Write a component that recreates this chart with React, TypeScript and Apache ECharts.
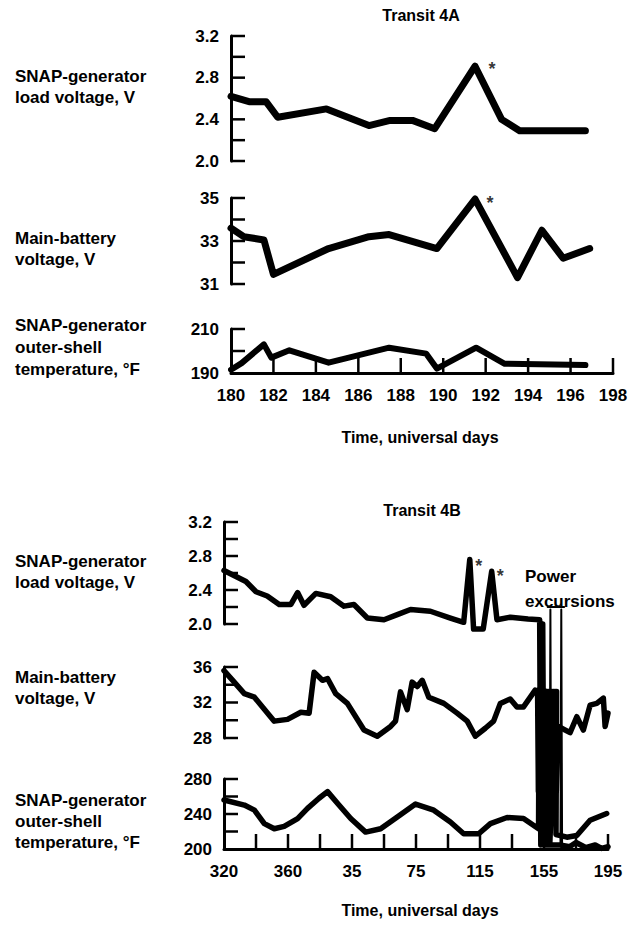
import React, { useEffect, useRef } from "react";
import * as echarts from "echarts";

// ---------- Transit 4A (x: universal day) ----------
const A_LOAD_DAYS = [180, 180.85, 181.65, 182.2, 184.5, 186.5, 187.5, 188.55, 189.6, 191.5, 192.75, 193.6, 196.7];
const A_LOAD_V = [2.62, 2.57, 2.57, 2.42, 2.5, 2.34, 2.39, 2.39, 2.31, 2.91, 2.4, 2.29, 2.29];

const A_BATT_DAYS = [180, 180.6, 181.55, 182.0, 184.6, 186.5, 187.45, 189.7, 191.5, 193.5, 194.65, 195.65, 196.9];
const A_BATT_V = [33.6, 33.2, 33.05, 31.45, 32.65, 33.2, 33.3, 32.65, 34.95, 31.3, 33.5, 32.2, 32.65];

const A_TEMP_DAYS = [180, 180.5, 181.55, 181.9, 182.75, 184.6, 187.45, 189.2, 189.7, 191.55, 192.9, 196.7];
const A_TEMP_F = [191.5, 194.5, 203, 197, 200.3, 194.7, 201.5, 198.8, 192, 201.5, 194.2, 193.6];

const A_STAR_LOAD = [[192.3, 2.93]];
const A_STAR_BATT = [[192.2, 34.99]];

// ---------- Transit 4B (x: running day, 365 wraps to next year) ----------
const B_LOAD_DAYS = [320, 333.7, 340, 347, 354.5, 361.8, 366, 370, 377.4, 386.7, 395, 401.2, 409.6, 420, 428.3, 436.6, 449, 461.5, 469.8, 473.6, 476, 482, 487.3, 490.6, 499, 510, 517.3, 518, 519.2, 520, 524, 530, 536, 540, 546, 552, 556, 560];
const B_LOAD_V = [2.63, 2.5, 2.38, 2.33, 2.23, 2.23, 2.37, 2.22, 2.36, 2.32, 2.21, 2.23, 2.07, 2.05, 2.11, 2.17, 2.15, 2.07, 2.02, 2.76, 1.94, 1.94, 2.62, 2.05, 2.08, 2.06, 2.05, -0.6, 2.0, -0.6, -0.6, -0.6, -0.62, -0.57, -0.63, -0.6, -0.64, -0.62];

const B_EXC_DAYS = [523.5, 524, 524.5, 530.3, 530.8, 531.3];
const B_EXC_V = [-0.6, 2.17, -0.6, -0.6, 2.17, -0.6];
const B_CAP_DAYS = [522.3, 532.6];
const B_CAP_V = [2.2, 2.2];

const B_BATT_DAYS = [320, 326.4, 332.7, 339, 351.4, 359.7, 368, 373.2, 376.3, 381.5, 384.7, 389.8, 397.1, 407.5, 415.8, 424.1, 427.2, 430.3, 434.5, 437.6, 440.8, 443.9, 448, 457.4, 465.7, 472, 477.1, 483.3, 488.5, 492.7, 498.9, 503.1, 507.2, 514.5,
  516, 516.5, 517.3, 518.1, 518.9, 519.7, 520.5, 521.3, 522.1, 522.9, 523.7, 524.5, 525.3, 526.1, 526.9, 527.7,
  529, 536.3, 540.5, 544.6, 548.8, 553, 557.1, 558.2, 560];
const B_BATT_V = [35.6, 34.3, 33.0, 32.6, 29.9, 30.1, 30.9, 30.8, 35.4, 34.5, 34.7, 33.0, 31.9, 28.9, 28.2, 29.3, 29.9, 33.2, 31.2, 34.3, 33.8, 34.5, 32.6, 31.9, 30.8, 29.9, 28.2, 29.1, 29.9, 31.9, 32.4, 31.5, 31.5, 33.4,
  33.0, 22, 33.5, 22, 33.5, 22, 33.3, 22, 33.2, 22, 33.0, 22, 32.5, 22, 31.5, 22,
  29.3, 28.6, 30.4, 28.9, 31.7, 31.9, 32.5, 29.3, 30.8];

const B_TEMP_DAYS = [320, 332.7, 339, 345.2, 351.4, 357.6, 366, 372.2, 379.4, 384.7, 390.9, 399.2, 408.5, 417.9, 428.3, 439.7, 451.1, 461.5, 469.8, 479.2, 486.5, 496.9, 507.2, 516.6,
  516.9, 521.6, 517.9, 521.8, 518.9, 522, 519.9, 522.2, 520.9, 522.4, 521.9, 522.6, 522.9, 522.8, 523.9, 523, 524.9, 523.2, 525.9, 523.4, 526.9, 523.6, 527.9,
  527.5, 534.3, 540.5, 548.8, 559.2];
const B_TEMP_F = [256, 250.2, 244.4, 229, 223.2, 225.9, 234.8, 246.4, 258, 265.6, 252.2, 234.8, 219.3, 223.2, 236.7, 251.4, 244.4, 230.9, 217.4, 217.4, 229, 236, 234.8, 223.2,
  380, 207, 380, 207, 380, 207, 380, 207, 380, 207, 380, 207, 380, 207, 380, 207, 380, 207, 380, 207, 380, 207, 380,
  216.6, 213.5, 215.4, 232.8, 240.6];

const B_STARS = [[479.2, 2.74], [492.7, 2.62]];

// axis ranges and tick positions
const A_XTICK = { min: 180, max: 198, interval: 2 };
const B_XTICK = { min: 320, max: 560, interval: 20 };
const A_X_TICKS = [182, 184, 186, 188, 190, 192, 194, 196, 198];
const B_X_TICKS = [340, 360, 380, 400, 420, 440, 460, 480, 500, 520, 540, 560];
const LOAD_Y_TICKS = [2.0, 2.2, 2.4, 2.6, 2.8, 3.0, 3.2];
const A_BATT_Y_TICKS = [31, 32, 33, 34, 35];
const A_TEMP_Y_TICKS = [200, 210];
const B_BATT_Y_TICKS = [28, 30, 32, 34, 36];
const B_TEMP_Y_TICKS = [220, 240, 260, 280];

const FONT = '"Liberation Sans", Arial, Helvetica, sans-serif';
const BLACK = "#000";

const zip = (xs: number[], ys: number[]) => xs.map((x, i) => [x, ys[i]]);

function buildOption() {
  const grids = [
    { left: 231, top: 36, width: 382, height: 125 },
    { left: 231, top: 198, width: 382, height: 86 },
    { left: 231, top: 329, width: 382, height: 44 },
    { left: 224, top: 522, width: 384, height: 102 },
    { left: 224, top: 667, width: 384, height: 71 },
    { left: 224, top: 779, width: 384, height: 70 },
  ];

  const labelStyle = { color: BLACK, fontSize: 17, fontWeight: "bold" as const, fontFamily: FONT };

  const xAxisBase = (gridIndex: number, range: any, show: boolean, fmt?: (v: number) => string) => ({
    type: "value",
    gridIndex,
    ...range,
    show,
    position: "bottom",
    axisLine: { show: true, onZero: false, lineStyle: { color: BLACK, width: 3 } },
    axisTick: { show: false },
    axisLabel: { ...labelStyle, margin: 14, formatter: fmt },
    splitLine: { show: false },
  });

  const yAxisBase = (gridIndex: number, min: number, max: number, interval: number, fmt: (v: number) => string) => ({
    type: "value",
    gridIndex,
    min,
    max,
    interval,
    position: "left",
    axisLine: { show: true, onZero: false, lineStyle: { color: BLACK, width: 3 } },
    axisTick: { show: false },
    axisLabel: { ...labelStyle, margin: 12, formatter: fmt },
    splitLine: { show: false },
  });

  const voltFmt = (v: number) => (Math.round(v * 10) % 4 === 0 ? v.toFixed(1) : "");
  const bFmt = (v: number) => ((v - 320) % 40 === 0 ? String(v > 365 ? v - 365 : v) : "");

  const xAxis = [
    xAxisBase(0, A_XTICK, false),
    xAxisBase(1, A_XTICK, false),
    xAxisBase(2, A_XTICK, true, (v: number) => String(v)),
    xAxisBase(3, B_XTICK, false),
    xAxisBase(4, B_XTICK, false),
    xAxisBase(5, B_XTICK, true, bFmt),
  ];

  const yRanges = [
    [2.0, 3.2, 0.2],
    [31, 35, 1],
    [190, 210, 10],
    [2.0, 3.2, 0.2],
    [28, 36, 2],
    [200, 280, 20],
  ];

  const yAxis = [
    yAxisBase(0, 2.0, 3.2, 0.2, voltFmt),
    yAxisBase(1, 31, 35, 1, (v) => ((v - 31) % 2 === 0 ? String(v) : "")),
    yAxisBase(2, 190, 210, 10, (v) => (v === 200 ? "" : String(v))),
    yAxisBase(3, 2.0, 3.2, 0.2, voltFmt),
    yAxisBase(4, 28, 36, 2, (v) => ((v - 28) % 4 === 0 ? String(v) : "")),
    yAxisBase(5, 200, 280, 20, (v) => ((v - 200) % 40 === 0 ? String(v) : "")),
  ];

  const line = (name: string, idx: number, data: number[][], width: number) => ({
    name,
    type: "line",
    xAxisIndex: idx,
    yAxisIndex: idx,
    data,
    symbol: "none",
    showSymbol: false,
    clip: false,
    lineStyle: { color: BLACK, width, join: "round", cap: "round" },
    z: 3,
  });

  // inward tick marks drawn through the axes' scales
  const xTicks = (name: string, idx: number, ticks: number[], yMin: number) => ({
    name,
    type: "custom",
    xAxisIndex: idx,
    yAxisIndex: idx,
    data: ticks.map((t) => [t, yMin]),
    clip: false,
    silent: true,
    z: 2,
    renderItem: (_p: any, api: any) => {
      const pt = api.coord([api.value(0), api.value(1)]);
      return {
        type: "line",
        shape: { x1: pt[0], y1: pt[1], x2: pt[0], y2: pt[1] - 15 },
        style: { stroke: BLACK, lineWidth: 2.5 },
      };
    },
  });

  const yTicks = (name: string, idx: number, ticks: number[], xMin: number) => ({
    name,
    type: "custom",
    xAxisIndex: idx,
    yAxisIndex: idx,
    data: ticks.map((t) => [xMin, t]),
    clip: false,
    silent: true,
    z: 2,
    renderItem: (_p: any, api: any) => {
      const pt = api.coord([api.value(0), api.value(1)]);
      return {
        type: "line",
        shape: { x1: pt[0], y1: pt[1], x2: pt[0] + 14, y2: pt[1] },
        style: { stroke: BLACK, lineWidth: 2.5 },
      };
    },
  });

  const stars = (name: string, idx: number, data: number[][]) => ({
    name,
    type: "scatter",
    xAxisIndex: idx,
    yAxisIndex: idx,
    data,
    symbolSize: 0.1,
    itemStyle: { color: BLACK },
    label: {
      show: true,
      formatter: "*",
      position: "inside",
      offset: [0, 5],
      color: BLACK,
      fontSize: 18,
      fontWeight: "bold",
      fontFamily: FONT,
    },
    z: 4,
  });

  const series = [
    yTicks("A load ticks", 0, LOAD_Y_TICKS, 180),
    yTicks("A batt ticks", 1, A_BATT_Y_TICKS, 180),
    yTicks("A temp ticks", 2, A_TEMP_Y_TICKS, 180),
    xTicks("A day ticks", 2, A_X_TICKS, 190),
    yTicks("B load ticks", 3, LOAD_Y_TICKS, 320),
    yTicks("B batt ticks", 4, B_BATT_Y_TICKS, 320),
    yTicks("B temp ticks", 5, B_TEMP_Y_TICKS, 320),
    xTicks("B day ticks", 5, B_X_TICKS, 200),
    line("A load", 0, zip(A_LOAD_DAYS, A_LOAD_V), 7),
    line("A battery", 1, zip(A_BATT_DAYS, A_BATT_V), 7),
    line("A temp", 2, zip(A_TEMP_DAYS, A_TEMP_F), 6),
    stars("A load *", 0, A_STAR_LOAD),
    stars("A batt *", 1, A_STAR_BATT),
    line("B load", 3, zip(B_LOAD_DAYS, B_LOAD_V), 5.5),
    line("B excursions", 3, zip(B_EXC_DAYS, B_EXC_V), 2),
    line("B caps", 3, zip(B_CAP_DAYS, B_CAP_V), 2),
    line("B battery", 4, zip(B_BATT_DAYS, B_BATT_V), 5.5),
    line("B temp", 5, zip(B_TEMP_DAYS, B_TEMP_F), 5.5),
    stars("B load *", 3, B_STARS),
  ];

  const txt = (text: string, x: number, yCenterFirst: number, opts: any = {}) => {
    const size = opts.size ?? 17;
    const lh = opts.lh ?? 21;
    return {
      type: "text",
      x,
      y: yCenterFirst - lh / 2,
      silent: true,
      style: {
        text,
        fill: BLACK,
        font: `bold ${size}px ${FONT}`,
        lineHeight: lh,
        align: opts.align ?? "left",
        verticalAlign: "top",
      },
    };
  };

  const graphic = [
    txt("Transit 4A", 421, 15, { align: "center", size: 16 }),
    txt("SNAP-generator\nload voltage, V", 15, 76),
    txt("Main-battery\nvoltage, V", 15, 238),
    txt("SNAP-generator\nouter-shell\ntemperature, °F", 15, 325, { lh: 22 }),
    txt("Time, universal days", 420, 437, { align: "center", size: 16 }),
    txt("Transit 4B", 422, 510, { align: "center", size: 16 }),
    txt("SNAP-generator\nload voltage, V", 15, 561),
    txt("Main-battery\nvoltage, V", 15, 677),
    txt("SNAP-generator\nouter-shell\ntemperature, °F", 15, 800, { lh: 21 }),
    txt("Power\nexcursions", 525, 576, { lh: 25 }),
    txt("Time, universal days", 420, 910, { align: "center", size: 16 }),
  ];

  return {
    animation: false,
    backgroundColor: "#fff",
    grid: grids,
    xAxis,
    yAxis,
    series,
    graphic,
  };
}

export default function App() {
  const ref = useRef<HTMLDivElement>(null);
  useEffect(() => {
    if (!ref.current) return;
    const chart = echarts.init(ref.current, null, { renderer: "svg" });
    chart.setOption(buildOption() as any);
    return () => chart.dispose();
  }, []);
  return (
    <div
      ref={ref}
      style={{ position: "absolute", left: 0, top: 0, width: 633, height: 926, background: "#fff" }}
    />
  );
}
